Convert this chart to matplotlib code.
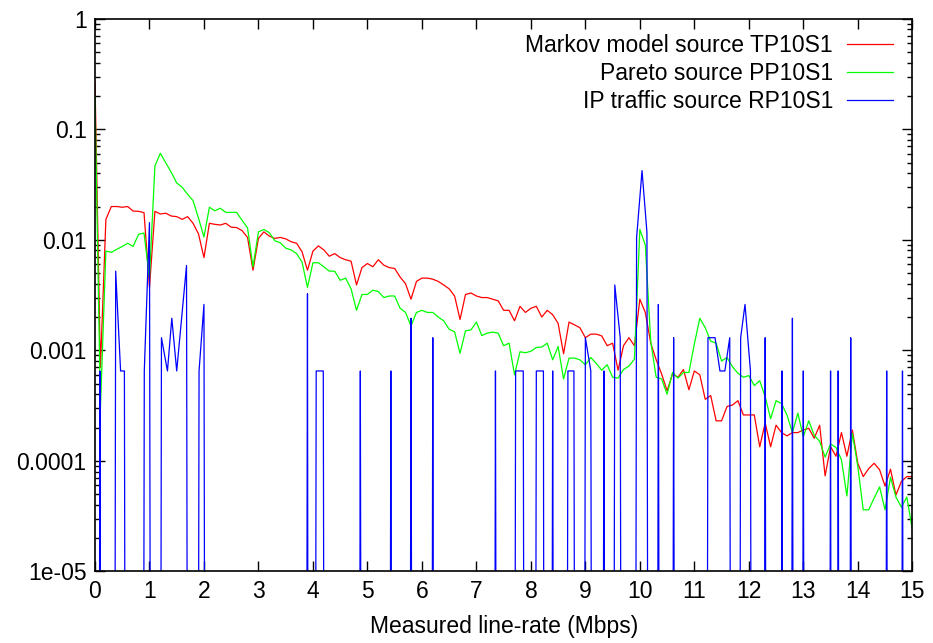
import numpy as np
import matplotlib
matplotlib.use('Agg')
import matplotlib.pyplot as plt

plt.rcParams['font.family'] = ['Liberation Sans', 'DejaVu Sans']

# taxa medida (Mbps), passo de 0.1
rate = np.round(np.arange(0, 151) * 0.1, 1)

# Markov model source TP10S1
markov = [
    0.27, 0.0007, 0.0153, 0.020, 0.020, 0.0197, 0.020, 0.0182, 0.0181, 0.0176,
    0.0037, 0.0181, 0.0171, 0.0174, 0.0164, 0.0162, 0.0153, 0.0162, 0.0141, 0.0113,
    0.0069, 0.0141, 0.0138, 0.0136, 0.0141, 0.0130, 0.0129, 0.0121, 0.0105, 0.0053,
    0.0103, 0.0118, 0.0108, 0.0103, 0.0105, 0.0102, 0.0096, 0.0093, 0.0078, 0.0053,
    0.0079, 0.0088, 0.0081, 0.0071, 0.0075, 0.0069, 0.0066, 0.0064, 0.0039, 0.0056,
    0.0061, 0.0057, 0.0066, 0.0059, 0.0056, 0.0055, 0.0046, 0.0040, 0.0029, 0.0042,
    0.0045, 0.0045, 0.0044, 0.0042, 0.0039, 0.0036, 0.0031, 0.0019, 0.0032, 0.0033,
    0.0031, 0.0030, 0.0030, 0.0029, 0.0028, 0.0023, 0.0023, 0.00185, 0.0025, 0.0022,
    0.0024, 0.0025, 0.0020, 0.0023, 0.0021, 0.00175, 0.00093, 0.0018, 0.0017, 0.0016,
    0.0013, 0.0014, 0.0014, 0.00135, 0.0011, 0.00116, 0.00066, 0.0011, 0.0013, 0.0011,
    0.0029, 0.0022, 0.00116, 0.00082, 0.00061, 0.00043, 0.00061, 0.00057, 0.00067, 0.00044,
    0.00065, 0.0006, 0.00036, 0.00039, 0.00023, 0.00023, 0.00031, 0.00032, 0.00035, 0.00026,
    0.00026, 0.00026, 0.000134, 0.00022, 0.000134, 0.00021, 0.00018, 0.000168, 0.00018, 0.00018,
    0.00019, 0.000197, 0.00016, 0.00021, 0.000073, 0.000134, 0.00011, 0.00018, 0.00011, 0.00019,
    0.000095, 0.000072, 0.000085, 0.000095, 0.000083, 0.000059, 0.000084, 0.000049, 0.000065, 0.000072,
    0.000072,
]

# Pareto source PP10S1
pareto = [
    0.2, 0.0003, 0.0079, 0.0077, 0.0082, 0.0087, 0.0093, 0.0087, 0.0112, 0.0115,
    0.0045, 0.0466, 0.0607, 0.0496, 0.0408, 0.0327, 0.0299, 0.0258, 0.0226, 0.0157,
    0.0106, 0.0197, 0.0183, 0.0193, 0.0177, 0.0177, 0.0177, 0.015, 0.0128, 0.0057,
    0.0118, 0.0124, 0.0116, 0.0098, 0.0094, 0.0084, 0.0081, 0.0075, 0.0063, 0.0037,
    0.0062, 0.0062, 0.0057, 0.0052, 0.0052, 0.0043, 0.0045, 0.0036, 0.0023, 0.0032,
    0.0032, 0.0035, 0.0034, 0.0030, 0.0031, 0.0031, 0.0024, 0.0022, 0.00166, 0.0022,
    0.0023, 0.0022, 0.0022, 0.0020, 0.00185, 0.00155, 0.00147, 0.00094, 0.0015, 0.00153,
    0.0018, 0.00136, 0.00143, 0.00146, 0.00143, 0.0011, 0.00116, 0.0006, 0.00097, 0.00095,
    0.00098, 0.00106, 0.00107, 0.00116, 0.00082, 0.00108, 0.00055, 0.00085, 0.00085, 0.00082,
    0.00074, 0.00086, 0.00076, 0.00066, 0.00074, 0.00057, 0.00056, 0.00067, 0.00072, 0.00083,
    0.0124, 0.0090, 0.0012, 0.00057, 0.00055, 0.0004, 0.00063, 0.00056, 0.00063, 0.00063,
    0.00114, 0.00195, 0.0016, 0.00121, 0.00116, 0.0008, 0.00086, 0.00071, 0.00062, 0.00057,
    0.00059, 0.00048, 0.00053, 0.00038, 0.00024, 0.00035, 0.00033, 0.00026, 0.00018, 0.00027,
    0.000165, 0.00023, 0.00017, 0.00015, 0.000108, 0.000142, 0.000132, 0.000102, 0.000048, 0.000177,
    0.000089, 0.000036, 0.000036, 0.000046, 0.000058, 0.000036, 0.000071, 0.000047, 0.000038, 0.000047,
    0.000024,
]

# IP traffic source RP10S1 (contagens, 1 contagem = unit)
unit = 0.00065
ip_x = [
    0.0, 0.09, 0.19, 0.28, 0.38, 0.47, 0.54, 0.64, 0.8, 0.905,
    1.0, 1.1, 1.12, 1.22, 1.33, 1.41, 1.5, 1.68, 1.78, 1.81,
    1.91, 2.0, 2.1, 3.8, 3.9, 3.96, 4.06, 4.19, 4.29, 4.77,
    4.87, 4.97, 5.33, 5.43, 5.53, 5.7, 5.8, 5.9, 6.1, 6.2,
    6.3, 7.25, 7.35, 7.45, 7.62, 7.72, 7.86, 7.96, 8.0, 8.1,
    8.23, 8.3, 8.4, 8.5, 8.58, 8.68, 8.79, 8.89, 8.9, 9.0,
    9.1, 9.2, 9.24, 9.34, 9.44, 9.54, 9.64, 9.74, 9.84, 9.94,
    10.04, 10.13, 10.23, 10.24, 10.34, 10.44, 10.52, 10.62, 10.72, 11.15,
    11.25, 11.38, 11.47, 11.56, 11.65, 11.75, 11.85, 11.93, 12.03, 12.13,
    12.2, 12.3, 12.4, 12.51, 12.61, 12.7, 12.8, 12.9, 13.0, 13.1,
    13.4, 13.5, 13.57, 13.64, 13.74, 13.77, 13.87, 13.97, 14.43, 14.53,
    14.63, 14.72, 14.82, 14.92, 15.0,
]
ip_count = [
    0, 1, 0, 0, 8, 1, 1, 0, 0, 1,
    22, 0, 0, 2, 1, 3, 1, 9, 0, 0,
    1, 4, 0, 0, 5, 0, 1, 1, 0, 0,
    1, 0, 0, 1, 0, 0, 3, 0, 0, 2,
    0, 0, 1, 0, 0, 1, 1, 0, 0, 1,
    1, 0, 1, 0, 0, 1, 1, 0, 0, 2,
    1, 0, 0, 1, 0, 6, 2, 0, 0, 16,
    65, 18, 0, 0, 4, 0, 0, 2, 0, 0,
    2, 2, 1, 1, 2, 0, 2, 4, 1, 0,
    0, 2, 0, 0, 1, 0, 3, 0, 1, 0,
    0, 1, 0, 1, 0, 0, 2, 0, 0, 1,
    0, 0, 1, 0, 0,
]

y_ticks = [1e-5, 1e-4, 1e-3, 1e-2, 1e-1, 1]
y_tick_labels = ['1e-05', '0.0001', '0.001', '0.01', '0.1', '1']
x_ticks = list(range(0, 16))

ip_values = np.array(ip_count) * unit
ip_values = np.where(ip_values > 0, ip_values, 1e-30)

fig = plt.figure(figsize=(9.33, 6.43), dpi=100)
ax = fig.add_axes([0.1018, 0.1115, 0.876, 0.8593])

ax.plot(rate, markov, color='#ff0000', lw=0.9, label='Markov model source TP10S1')
ax.plot(rate, pareto, color='#00ff00', lw=0.9, label='Pareto source PP10S1')
ax.plot(ip_x, ip_values, color='#0000ff', lw=0.9, label='IP traffic source RP10S1')

ax.set_yscale('log')
ax.set_xlim(0, 15)
ax.set_ylim(1e-5, 1)
ax.set_xticks(x_ticks)
ax.set_xticklabels([str(t) for t in x_ticks])
ax.set_yticks(y_ticks)
ax.set_yticklabels(y_tick_labels)

ax.tick_params(which='major', direction='in', length=7, width=1,
               top=True, right=True, labelsize=16.5, pad=6)
ax.tick_params(which='minor', direction='in', length=3.5, width=1,
               top=True, right=True)
for s in ax.spines.values():
    s.set_linewidth(1.2)

ax.set_xlabel('Measured line-rate (Mbps)', fontsize=16.5, labelpad=9)

ax.legend(loc='upper right', bbox_to_anchor=(0.976, 0.972), frameon=False,
          markerfirst=False, fontsize=16.5, handlelength=2.0, handletextpad=0.6,
          labelspacing=0.22, borderpad=0, borderaxespad=0)

plt.savefig('out.png', dpi=100)
